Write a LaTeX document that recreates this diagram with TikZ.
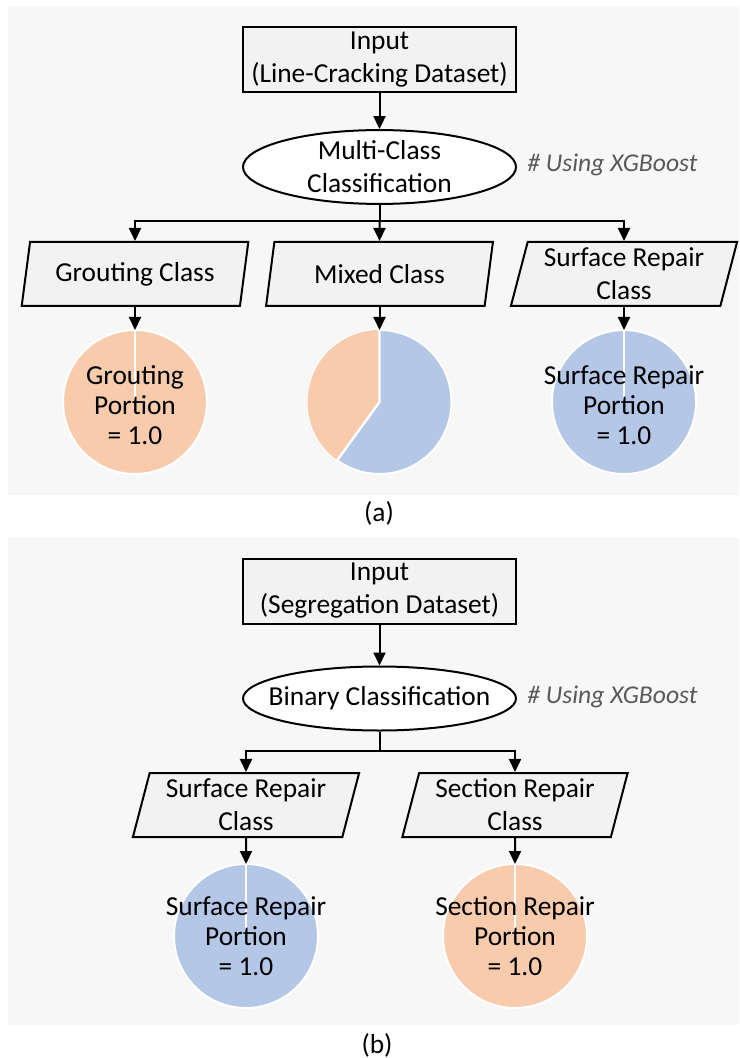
\documentclass[tikz,border=0pt]{standalone}
\usepackage{fontspec}
\setmainfont{Carlito}
\usetikzlibrary{shapes.geometric,arrows.meta}
\definecolor{panelbg}{HTML}{F7F7F7}
\definecolor{boxgray}{HTML}{F2F2F2}
\definecolor{pieorange}{HTML}{F8CBAD}
\definecolor{pieblue}{HTML}{B4C7E7}
\definecolor{notegray}{HTML}{595959}
\tikzset{
	txt/.style={font=\fontsize{13.7}{16.5}\selectfont, align=center},
	inbox/.style={txt, draw, fill=boxgray, line width=1pt, minimum width=136.5pt, minimum height=32.5pt, inner sep=0pt},
	clsbox/.style={txt, ellipse, draw, fill=white, line width=1pt, minimum width=136.5pt, minimum height=32pt, inner ysep=0pt, inner xsep=-12pt},
	classbox/.style={txt, trapezium, trapezium left angle=75, trapezium right angle=105, trapezium stretches=true, draw, fill=boxgray, line width=1pt, minimum width=113.5pt, minimum height=32pt, inner sep=0pt},
	pie/.style={circle, draw=white, line width=1pt, minimum size=72pt, inner sep=0pt, outer sep=0pt},
	pietext/.style={font=\fontsize{13.7}{15}\selectfont, align=center},
	slice/.style={white, line width=1.2pt},
	note/.style={font=\fontsize{12.8}{15}\selectfont\itshape, text=notegray, anchor=west, inner sep=0pt},
	flow/.style={line width=1pt, -{Triangle[width=6pt,length=6.5pt]}},
}
\begin{document}
\begin{tikzpicture}[x=0.5pt,y=-0.5pt]
	\useasboundingbox (0,0) rectangle (739,1058);
	\fill[panelbg] (8,6) rectangle (739,495);
	\fill[panelbg] (8,538) rectangle (739,1025);

	% (a) line-cracking
	\node[inbox] (inA) at (379.5,59.5) {Input\\(Line-Cracking Dataset)};
	\node[clsbox] (clsA) at (379.5,167) {Multi-Class\\Classification};
	\node[note] (noteA) at (527,165) {\# Using XGBoost};
	\coordinate (splitA) at (379.5,221);
	\node[classbox] (groutA) at (135,274) {Grouting Class};
	\node[classbox] (mixedA) at (379.5,274) {Mixed Class};
	\node[classbox] (surfA) at (624,274) {Surface Repair\\Class};
	\draw[flow] (inA) -- (clsA);
	\draw[line width=1pt] (clsA) -- (splitA);
	\draw[flow] (splitA) -| (groutA);
	\draw[flow] (splitA) -- (mixedA);
	\draw[flow] (splitA) -| (surfA);

	\node[pie, fill=pieorange] (pieG) at (135,402) {};
	\draw[slice] (pieG.north) -- (pieG.center);
	\node[pietext] (txtG) at (135,405) {Grouting\\Portion\\= 1.0};
	\node[pie, fill=pieblue] (pieM) at (379.5,402) {};
	\fill[pieorange] (pieM.center) -- (pieM.north) arc[start angle=90, end angle=234, radius=36pt] -- cycle;
	\draw[slice] (pieM.north) -- (pieM.center) -- (pieM.234);
	\node[pie, fill=pieblue] (pieS) at (624,402) {};
	\draw[slice] (pieS.north) -- (pieS.center);
	\node[pietext] (txtS) at (624,405) {Surface Repair\\Portion\\= 1.0};
	\draw[flow] (groutA) -- (pieG);
	\draw[flow] (mixedA) -- (pieM);
	\draw[flow] (surfA) -- (pieS);
	\node[txt] (capA) at (379,513) {(a)};

	% (b) segregation
	\node[inbox] (inB) at (379.5,591) {Input\\(Segregation Dataset)};
	\node[clsbox] (clsB) at (379.5,698.5) {Binary Classification};
	\node[note] (noteB) at (527,697) {\# Using XGBoost};
	\coordinate (splitB) at (379.5,751);
	\node[classbox] (surfB) at (246,805) {Surface Repair\\Class};
	\node[classbox] (sectB) at (515,805) {Section Repair\\Class};
	\draw[flow] (inB) -- (clsB);
	\draw[line width=1pt] (clsB) -- (splitB);
	\draw[flow] (splitB) -| (surfB);
	\draw[flow] (splitB) -| (sectB);

	\node[pie, fill=pieblue] (pieSB) at (246,936) {};
	\draw[slice] (pieSB.north) -- (pieSB.center);
	\node[pietext] (txtSB) at (246,936) {Surface Repair\\Portion\\= 1.0};
	\node[pie, fill=pieorange] (pieCB) at (515,936) {};
	\draw[slice] (pieCB.north) -- (pieCB.center);
	\node[pietext] (txtCB) at (515,936) {Section Repair\\Portion\\= 1.0};
	\draw[flow] (surfB) -- (pieSB);
	\draw[flow] (sectB) -- (pieCB);
	\node[txt] (capB) at (377,1045) {(b)};
\end{tikzpicture}
\end{document}
